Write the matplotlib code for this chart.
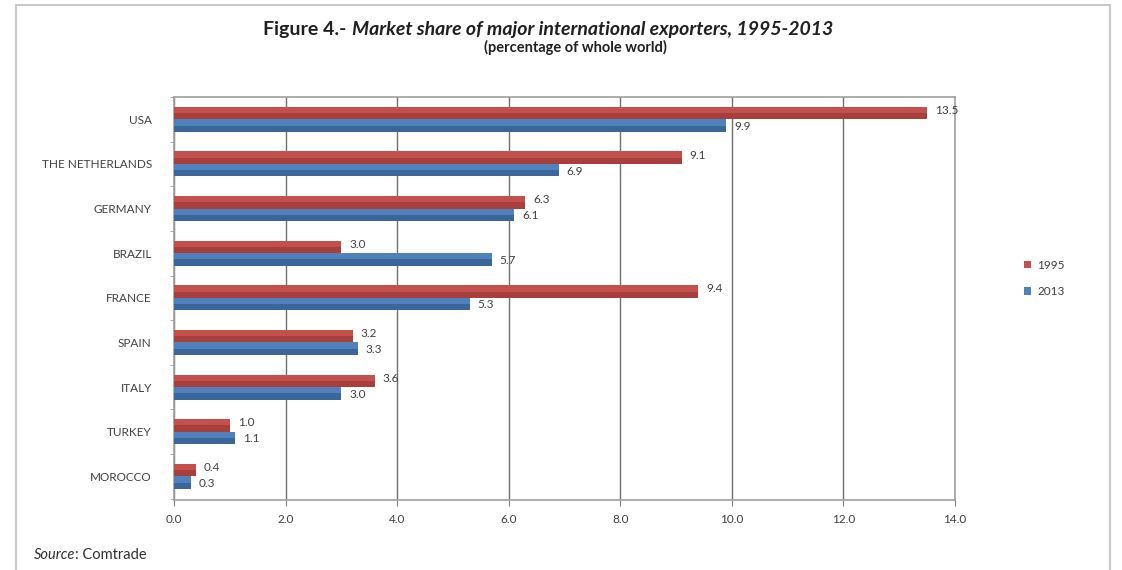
import matplotlib.pyplot as plt
from matplotlib.patches import Rectangle
import numpy as np

# Данные диаграммы
countries = ['USA', 'THE NETHERLANDS', 'GERMANY', 'BRAZIL', 'FRANCE',
             'SPAIN', 'ITALY', 'TURKEY', 'MOROCCO']
share_1995 = [13.5, 9.1, 6.3, 3.0, 9.4, 3.2, 3.6, 1.0, 0.4]
share_2013 = [9.9, 6.9, 6.1, 5.7, 5.3, 3.3, 3.0, 1.1, 0.3]
years = ['1995', '2013']
x_ticks = [0, 2, 4, 6, 8, 10, 12, 14]

red = '#C4504D'
red_dark = '#8C2F2C'
blue = '#4F81BD'
blue_dark = '#284C78'
text_col = '#404040'

plt.rcParams['font.family'] = ['Lato', 'DejaVu Sans']

fig = plt.figure(figsize=(11.22, 5.70), dpi=100)
ax = fig.add_axes([174 / 1122, 1 - 500 / 570, 781 / 1122, 403 / 570])

y = np.arange(len(countries))
h = 0.28

# Столбцы с тёмной нижней кромкой (имитация объёма)
b1 = ax.barh(y - h / 2, share_1995, height=h, color=red, zorder=3, label=years[0])
ax.barh(y - h / 2 + h * 0.25, share_1995, height=h * 0.5, color=red_dark, alpha=0.5, zorder=3)
b2 = ax.barh(y + h / 2, share_2013, height=h, color=blue, zorder=3, label=years[1])
ax.barh(y + h / 2 + h * 0.25, share_2013, height=h * 0.5, color=blue_dark, alpha=0.5, zorder=3)

for yi, v in zip(y, share_1995):
    ax.text(v + 0.14, yi - h / 2 - 0.06, f'{v:.1f}', fontsize=8.5, color=text_col, va='center')
for yi, v in zip(y, share_2013):
    ax.text(v + 0.14, yi + h / 2 + 0.02, f'{v:.1f}', fontsize=8.5, color=text_col, va='center')

ax.set_xlim(0, 14)
ax.set_ylim(8.53, -0.45)
ax.set_xticks(x_ticks)
ax.set_xticklabels([f'{t:.1f}' for t in x_ticks], fontsize=8.5, color=text_col)
ax.set_yticks(y)
ax.set_yticklabels(countries, fontsize=8.5, color=text_col)
ax.tick_params(axis='y', length=0, pad=16)
ax.tick_params(axis='x', length=4, direction='out', color='#808080', pad=6)
ax.set_yticks(np.arange(-0.5, 8.6, 1), minor=True)
ax.tick_params(axis='y', which='minor', length=3, color='#a0a0a0')

ax.grid(axis='x', color='#707070', linewidth=1.0, zorder=0)
for s in ax.spines.values():
    s.set_color('#a0a0a0')
    s.set_linewidth(1.2)

ax.legend(handles=[b1, b2], labels=years, loc='center left', bbox_to_anchor=(1.075, 0.55),
          frameon=False, fontsize=8.5, handlelength=0.6, handleheight=0.6,
          handletextpad=0.5, labelspacing=1.3, labelcolor=text_col)

# Заголовок: обычная часть + курсив сразу за ней
t1 = fig.text(263 / 1122, 1 - 30 / 570, 'Figure 4.-', ha='left', va='center',
              fontsize=14, fontweight='bold', color='#202020')
fig.canvas.draw()
bb = t1.get_window_extent()
fig.text((bb.x1 + 6) / fig.bbox.width, 1 - 30 / 570,
         'Market share of major international exporters, 1995-2013',
         ha='left', va='center', fontsize=14, fontweight='bold', style='italic', color='#202020')
fig.text(575 / 1122, 1 - 47 / 570, '(percentage of whole world)', ha='center', va='center',
         fontsize=10.5, fontweight='bold', color='#202020')

# Источник
src = fig.text(34 / 1122, 1 - 555 / 570, 'Source', ha='left', va='center', fontsize=10.5,
               style='italic', color='#303030')
fig.canvas.draw()
bb = src.get_window_extent()
fig.text(bb.x1 / fig.bbox.width, 1 - 555 / 570, ': Comtrade', ha='left', va='center',
         fontsize=10.5, color='#303030')

# Рамка вокруг всей диаграммы
fig.patches.append(Rectangle((16 / 1122, -0.1), 1094 / 1122, 1.1 - 5 / 570,
                             transform=fig.transFigure, fill=False,
                             edgecolor='#c8c8c8', linewidth=1.5))

fig.savefig('out.png', dpi=100)
